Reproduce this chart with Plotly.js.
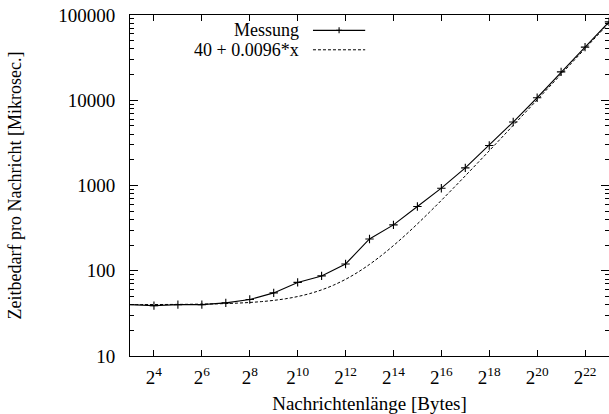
<!DOCTYPE html>
<html>
<head>
<meta charset="utf-8">
<script src="https://cdn.plot.ly/plotly-3.0.1.min.js"></script>
<style>html,body{margin:0;padding:0;background:#fff;}#plot{width:609px;height:414px;}</style>
</head>
<body>
<div id="plot"></div>
<script>
// Measured data: message length (bytes) vs time per message (microseconds)
const msgSizes = [8, 16, 32, 64, 128, 256, 512, 1024, 2048, 4096, 8192, 16384, 32768, 65536,
  131072, 262144, 524288, 1048576, 2097152, 4194304, 8388608];
const measuredTimes = [40, 39, 40, 40, 42, 46, 55, 73, 87, 120, 236, 345, 567, 930,
  1610, 2950, 5550, 10700, 21500, 42000, 83000];

// Model curve "40 + 0.0096*x" (values listed per sample)
const modelSizes = [8, 11.31, 16, 22.63, 32, 45.25, 64, 90.51, 128, 181.02, 256, 362.04, 512, 724.08,
  1024, 1448.15, 2048, 2896.31, 4096, 5792.62, 8192, 11585.2, 16384, 23170.5, 32768, 46341,
  65536, 92682, 131072, 185364, 262144, 370728, 524288, 741455, 1048576, 1482910, 2097152,
  2965821, 4194304, 5931642, 8388608];
const modelTimes = [40.08, 40.11, 40.15, 40.22, 40.31, 40.43, 40.61, 40.87, 41.23, 41.74, 42.46, 43.48,
  44.92, 46.95, 49.83, 53.90, 59.66, 67.80, 79.32, 95.61, 118.64, 151.22, 197.29, 262.44, 354.57,
  484.87, 669.15, 929.75, 1298.29, 1819.50, 2556.58, 3598.99, 5073.16, 7157.97, 10106.33, 14275.94,
  20172.66, 28511.88, 40305.32, 56983.76, 80570.64];

const xTickVals = [16, 64, 256, 1024, 4096, 16384, 65536, 262144, 1048576, 4194304];
const xTickText = ['2<sup>4</sup>', '2<sup>6</sup>', '2<sup>8</sup>', '2<sup>10</sup>', '2<sup>12</sup>',
  '2<sup>14</sup>', '2<sup>16</sup>', '2<sup>18</sup>', '2<sup>20</sup>', '2<sup>22</sup>'];
const yTickVals = [10, 100, 1000, 10000, 100000];
const yTickText = ['10', '100', '1000', '10000', '100000'];
const yMinorVals = [];
for (const d of [10, 100, 1000, 10000]) for (let m = 2; m <= 9; m++) yMinorVals.push(m * d);

const seriesNames = ['Messung', '40 + 0.0096*x'];

const FONT = 'Liberation Serif, Times New Roman, serif';
const FS = 19;
const LFS = 18;

const traces = [
  {
    x: msgSizes, y: measuredTimes, name: seriesNames[0], type: 'scatter', mode: 'lines+markers',
    line: {color: '#000', width: 1.1},
    marker: {symbol: 'cross-thin', size: 6, color: '#000', line: {color: '#000', width: 1.1}},
    showlegend: false, cliponaxis: false
  },
  {
    x: modelSizes, y: modelTimes, name: seriesNames[1], type: 'scatter', mode: 'lines',
    line: {color: '#000', width: 1, dash: '3px,2px', shape: 'spline'},
    showlegend: false
  }
];

// manual gnuplot-style legend (text left, sample right)
const legX0 = 0.382, legX1 = 0.491, legTextX = 0.358;
const legY = [0.955, 0.898];
const legMid = (legX0 + legX1) / 2;

const layout = {
  width: 609, height: 414,
  margin: {l: 130, r: 0, t: 15, b: 58, pad: 0},
  paper_bgcolor: '#fff', plot_bgcolor: '#fff',
  font: {family: FONT, size: FS, color: '#000'},
  showlegend: false,
  xaxis: {
    type: 'log', range: [Math.log10(8), Math.log10(8388608)],
    tickmode: 'array', tickvals: xTickVals, ticktext: xTickText,
    ticks: 'inside', ticklen: 6, tickwidth: 1, tickcolor: '#000',
    showline: true, linecolor: '#000', linewidth: 1, mirror: 'ticks',
    showgrid: false, zeroline: false,
    tickfont: {family: FONT, size: FS, color: '#000'},
    ticklabelstandoff: 4,
    title: {text: 'Nachrichtenlänge [Bytes]', font: {family: FONT, size: FS, color: '#000'}, standoff: 9}
  },
  yaxis: {
    type: 'log', range: [1, 5],
    tickmode: 'array', tickvals: yTickVals, ticktext: yTickText,
    ticks: 'inside', ticklen: 8, tickwidth: 1, tickcolor: '#000',
    minor: {tickvals: yMinorVals, ticks: 'inside', ticklen: 4, tickcolor: '#000', showgrid: false},
    showline: true, linecolor: '#000', linewidth: 1, mirror: 'allticks',
    showgrid: false, zeroline: false,
    tickfont: {family: FONT, size: FS, color: '#000'},
    ticklabelstandoff: 10,
    title: {text: 'Zeitbedarf pro Nachricht [Mikrosec.]', font: {family: FONT, size: LFS, color: '#000'}, standoff: 31}
  },
  annotations: [
    {xref: 'paper', yref: 'paper', x: legTextX, y: legY[0], text: seriesNames[0], showarrow: false,
     xanchor: 'right', yanchor: 'middle', font: {family: FONT, size: LFS, color: '#000'}},
    {xref: 'paper', yref: 'paper', x: legTextX, y: legY[1], text: seriesNames[1], showarrow: false,
     xanchor: 'right', yanchor: 'middle', font: {family: FONT, size: LFS, color: '#000'}}
  ],
  shapes: [
    {type: 'line', xref: 'paper', yref: 'paper', x0: legX0, x1: legX1, y0: legY[0], y1: legY[0],
     line: {color: '#000', width: 1.1}},
    {type: 'line', xref: 'paper', yref: 'paper', xsizemode: 'pixel', xanchor: legMid, x0: -3, x1: 3,
     y0: legY[0], y1: legY[0], line: {color: '#000', width: 1.1}},
    {type: 'line', xref: 'paper', yref: 'paper', ysizemode: 'pixel', yanchor: legY[0], y0: -3, y1: 3,
     x0: legMid, x1: legMid, line: {color: '#000', width: 1.1}},
    {type: 'line', xref: 'paper', yref: 'paper', x0: legX0, x1: legX1, y0: legY[1], y1: legY[1],
     line: {color: '#000', width: 1, dash: '3px,2px'}}
  ]
};

Plotly.newPlot('plot', traces, layout, {displayModeBar: false, staticPlot: true});
</script>
</body>
</html>
